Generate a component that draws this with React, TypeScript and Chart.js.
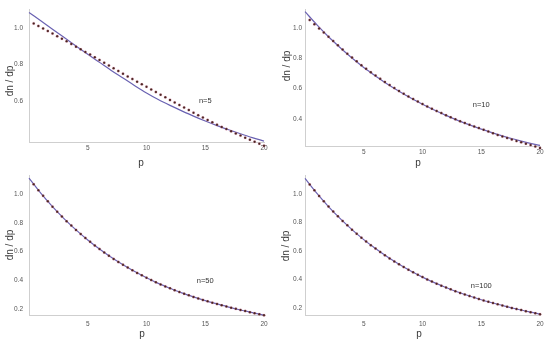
import React, { useEffect, useRef } from 'react';
import { Chart, registerables } from 'chart.js';

Chart.register(...registerables);

// ---------------- data ----------------
const LINE_P = [0, 1, 2, 3, 4, 5, 6, 7, 8, 9, 10, 11, 12, 13, 14, 15, 16, 17, 18, 19, 20];
const DOT_P = [
  0.4, 0.8, 1.2, 1.6, 2.0, 2.4, 2.8, 3.2, 3.6, 4.0,
  4.4, 4.8, 5.2, 5.6, 6.0, 6.4, 6.8, 7.2, 7.6, 8.0,
  8.4, 8.8, 9.2, 9.6, 10.0, 10.4, 10.8, 11.2, 11.6, 12.0,
  12.4, 12.8, 13.2, 13.6, 14.0, 14.4, 14.8, 15.2, 15.6, 16.0,
  16.4, 16.8, 17.2, 17.6, 18.0, 18.4, 18.8, 19.2, 19.6, 20.0,
];
const X_TICKS = [5, 10, 15, 20];

const N5_LINE = [1.086, 1.040, 0.994, 0.948, 0.902, 0.856, 0.812, 0.768, 0.726, 0.684, 0.644, 0.608, 0.576, 0.546, 0.517, 0.490, 0.465, 0.442, 0.420, 0.399, 0.380];
const N5_DOTS = [
  1.026, 1.012, 0.998, 0.984, 0.970, 0.956, 0.942, 0.928, 0.913, 0.898,
  0.884, 0.869, 0.855, 0.840, 0.825, 0.810, 0.795, 0.780, 0.765, 0.750,
  0.735, 0.721, 0.706, 0.692, 0.678, 0.663, 0.649, 0.634, 0.620, 0.606,
  0.592, 0.578, 0.564, 0.550, 0.536, 0.522, 0.509, 0.496, 0.483, 0.470,
  0.458, 0.446, 0.434, 0.422, 0.410, 0.399, 0.388, 0.377, 0.366, 0.355,
];
const N5_YTICKS = [0.6, 0.8, 1.0];

const N10_LINE = [1.108, 1.022, 0.942, 0.870, 0.802, 0.740, 0.684, 0.631, 0.583, 0.538, 0.497, 0.459, 0.424, 0.391, 0.361, 0.333, 0.308, 0.284, 0.263, 0.243, 0.226];
const N10_DOTS = [
  1.053, 1.025, 0.997, 0.970, 0.942, 0.914, 0.886, 0.858, 0.831, 0.805,
  0.780, 0.755, 0.732, 0.709, 0.686, 0.665, 0.644, 0.624, 0.604, 0.585,
  0.567, 0.549, 0.532, 0.515, 0.499, 0.483, 0.468, 0.453, 0.439, 0.425,
  0.412, 0.399, 0.386, 0.374, 0.362, 0.351, 0.340, 0.329, 0.318, 0.306,
  0.295, 0.285, 0.275, 0.265, 0.255, 0.246, 0.237, 0.228, 0.218, 0.208,
];
const N10_YTICKS = [0.4, 0.6, 0.8, 1.0];

const N50_LINE = [1.110, 1.006, 0.912, 0.827, 0.750, 0.680, 0.617, 0.559, 0.507, 0.460, 0.417, 0.378, 0.344, 0.312, 0.284, 0.258, 0.235, 0.213, 0.193, 0.175, 0.157];
const N50_DOTS = [
  1.067, 1.026, 0.987, 0.949, 0.912, 0.877, 0.844, 0.811, 0.780, 0.750,
  0.721, 0.694, 0.667, 0.641, 0.617, 0.593, 0.570, 0.548, 0.527, 0.507,
  0.488, 0.469, 0.451, 0.434, 0.417, 0.401, 0.386, 0.371, 0.357, 0.344,
  0.331, 0.318, 0.306, 0.295, 0.284, 0.273, 0.263, 0.253, 0.244, 0.235,
  0.226, 0.217, 0.209, 0.201, 0.193, 0.186, 0.178, 0.171, 0.164, 0.157,
];
const N50_YTICKS = [0.2, 0.4, 0.6, 0.8, 1.0];

const N100_LINE = [1.110, 1.006, 0.912, 0.827, 0.750, 0.680, 0.617, 0.559, 0.507, 0.460, 0.417, 0.378, 0.344, 0.312, 0.284, 0.258, 0.235, 0.213, 0.193, 0.175, 0.157];
const N100_DOTS = [
  1.067, 1.026, 0.987, 0.949, 0.912, 0.877, 0.844, 0.811, 0.780, 0.750,
  0.721, 0.694, 0.667, 0.641, 0.617, 0.593, 0.570, 0.548, 0.527, 0.507,
  0.488, 0.469, 0.451, 0.434, 0.417, 0.401, 0.386, 0.371, 0.357, 0.344,
  0.331, 0.318, 0.306, 0.295, 0.284, 0.273, 0.263, 0.253, 0.244, 0.235,
  0.226, 0.217, 0.209, 0.201, 0.193, 0.186, 0.178, 0.171, 0.164, 0.157,
];
const N100_YTICKS = [0.2, 0.4, 0.6, 0.8, 1.0];

const PANEL_LABELS = ['n=5', 'n=10', 'n=50', 'n=100'];
const LABEL_POS = [
  { p: 15, v: 0.6 },
  { p: 15, v: 0.49 },
  { p: 15, v: 0.395 },
  { p: 15, v: 0.352 },
];
const X_TITLE = 'p';
const Y_TITLE = 'dn / dp';

// ---------------- styling / layout ----------------
const FONT = '"Liberation Sans", Arial, sans-serif';
const LINE_COLOR = '#6a62b2';
const DOT_COLOR = '#3f2016';
const DOT_HALO = 'rgba(255, 150, 200, 0.22)';
const AXIS_COLOR = '#cfcfcf';

type PanelCfg = {
  left: number; top: number; w: number; h: number;
  yMin: number; yMax: number;
  padTop: number; padRight: number;
  yW: number; xH: number; yPad: number; xPad: number;
  xTitle: { x: number; y: number }; yTitle: { x: number; y: number };
  line: number[]; dots: number[]; yTicks: number[];
  label: string; labelPos: { p: number; v: number };
};

const PANELS: PanelCfg[] = [
  { left: 0, top: 0, w: 275, h: 170, yMin: 0.375, yMax: 1.1, padTop: 9.75, padRight: 11, yW: 29, xH: 28, yPad: 6, xPad: 2,
    xTitle: { x: 141, y: 163 }, yTitle: { x: 10, y: 81 },
    line: N5_LINE, dots: N5_DOTS, yTicks: N5_YTICKS, label: PANEL_LABELS[0], labelPos: LABEL_POS[0] },
  { left: 275, top: 0, w: 275, h: 170, yMin: 0.222, yMax: 1.12, padTop: 9.8, padRight: 10, yW: 30, xH: 24, yPad: 3, xPad: 2,
    xTitle: { x: 143, y: 163 }, yTitle: { x: 12, y: 66 },
    line: N10_LINE, dots: N10_DOTS, yTicks: N10_YTICKS, label: PANEL_LABELS[1], labelPos: LABEL_POS[1] },
  { left: 0, top: 165, w: 275, h: 176, yMin: 0.158, yMax: 1.13, padTop: 10.3, padRight: 11, yW: 29, xH: 26, yPad: 6, xPad: 5,
    xTitle: { x: 142, y: 169 }, yTitle: { x: 10, y: 80 },
    line: N50_LINE, dots: N50_DOTS, yTicks: N50_YTICKS, label: PANEL_LABELS[2], labelPos: LABEL_POS[2] },
  { left: 275, top: 165, w: 275, h: 176, yMin: 0.151, yMax: 1.13, padTop: 10.5, padRight: 10, yW: 30, xH: 26, yPad: 3, xPad: 5,
    xTitle: { x: 144, y: 169 }, yTitle: { x: 11, y: 81 },
    line: N100_LINE, dots: N100_DOTS, yTicks: N100_YTICKS, label: PANEL_LABELS[3], labelPos: LABEL_POS[3] },
];

const textPlugin = {
  id: 'paneltext',
  afterDatasetsDraw(chart: any, _args: any, opts: any) {
    const { ctx, scales } = chart;
    ctx.save();
    ctx.textAlign = 'center';
    ctx.textBaseline = 'middle';
    ctx.font = `7.5px ${FONT}`;
    ctx.fillStyle = '#333';
    ctx.fillText(opts.text, scales.x.getPixelForValue(opts.p), scales.y.getPixelForValue(opts.v));
    ctx.font = `10px ${FONT}`;
    ctx.fillStyle = '#3a3a3a';
    ctx.fillText(X_TITLE, opts.xTitle.x, opts.xTitle.y);
    ctx.translate(opts.yTitle.x, opts.yTitle.y);
    ctx.rotate(-Math.PI / 2);
    ctx.fillText(Y_TITLE, 0, 0);
    ctx.restore();
  },
};

function PanelChart({ cfg }: { cfg: PanelCfg }) {
  const ref = useRef<HTMLCanvasElement | null>(null);
  useEffect(() => {
    if (!ref.current) return;
    const chart = new Chart(ref.current, {
      type: 'scatter',
      data: {
        datasets: [
          {
            data: DOT_P.map((p, i) => ({ x: p, y: cfg.dots[i] })),
            showLine: false,
            pointRadius: 1.25,
            pointBackgroundColor: DOT_COLOR,
            pointBorderColor: DOT_HALO,
            pointBorderWidth: 1.2,
            clip: false as any,
          },
          {
            data: LINE_P.map((p, i) => ({ x: p, y: cfg.line[i] })),
            showLine: true,
            borderColor: LINE_COLOR,
            borderWidth: 1.2,
            pointRadius: 0,
            cubicInterpolationMode: 'monotone',
            clip: false as any,
          },
        ],
      },
      options: {
        animation: false,
        responsive: false,
        devicePixelRatio: 1,
        layout: { padding: { top: cfg.padTop, right: cfg.padRight, left: 0, bottom: 0 } },
        plugins: {
          legend: { display: false },
          tooltip: { enabled: false },
          paneltext: { text: cfg.label, p: cfg.labelPos.p, v: cfg.labelPos.v, xTitle: cfg.xTitle, yTitle: cfg.yTitle },
        } as any,
        scales: {
          x: {
            type: 'linear',
            min: 0,
            max: 20,
            afterBuildTicks: (s: any) => { s.ticks = X_TICKS.map((v) => ({ value: v })); },
            afterFit: (s: any) => { s.height = cfg.xH; },
            ticks: { font: { size: 6.5, family: FONT }, color: '#555', padding: cfg.xPad, maxRotation: 0, autoSkip: false },
            grid: { display: false, drawTicks: false },
            border: { display: true, color: AXIS_COLOR, width: 1 },
            title: { display: false },
          },
          y: {
            type: 'linear',
            min: cfg.yMin,
            max: cfg.yMax,
            afterBuildTicks: (s: any) => { s.ticks = cfg.yTicks.map((v) => ({ value: v })); },
            afterFit: (s: any) => { s.width = cfg.yW; },
            ticks: {
              font: { size: 6.5, family: FONT }, color: '#555', padding: cfg.yPad, autoSkip: false,
              callback: (v: any) => Number(v).toFixed(1),
            },
            grid: { display: false, drawTicks: false },
            border: { display: true, color: AXIS_COLOR, width: 1 },
            title: { display: false },
          },
        },
      },
      plugins: [textPlugin],
    } as any);
    return () => chart.destroy();
  }, [cfg]);
  return (
    <div style={{ position: 'absolute', left: cfg.left, top: cfg.top, width: cfg.w, height: cfg.h }}>
      <canvas ref={ref} width={cfg.w} height={cfg.h} style={{ width: cfg.w, height: cfg.h, display: 'block' }} />
    </div>
  );
}

export default function App() {
  return (
    <div style={{ position: 'fixed', left: 0, top: 0, width: 550, height: 341, background: '#ffffff', overflow: 'hidden' }}>
      {PANELS.map((cfg, i) => (
        <PanelChart key={i} cfg={cfg} />
      ))}
    </div>
  );
}
